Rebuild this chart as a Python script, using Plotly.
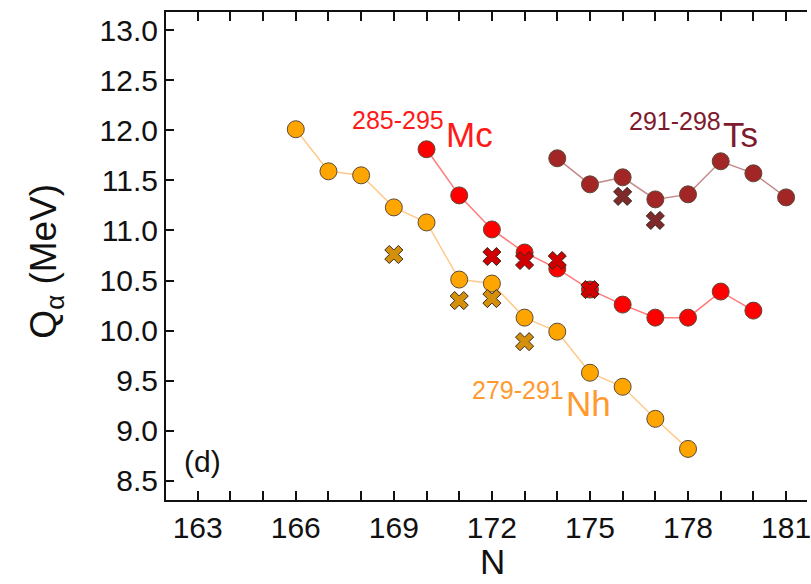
import plotly.graph_objects as go

# ---- data ----
nh_N = [166, 167, 168, 169, 170, 171, 172, 173, 174, 175, 176, 177, 178]
nh_Q = [12.01, 11.59, 11.55, 11.23, 11.08, 10.51, 10.47, 10.13, 9.99, 9.58, 9.44, 9.12, 8.82]
nh_exp_N = [169, 171, 172, 173]
nh_exp_Q = [10.76, 10.30, 10.32, 9.89]

mc_N = [170, 171, 172, 173, 174, 175, 176, 177, 178, 179, 180]
mc_Q = [11.81, 11.35, 11.01, 10.78, 10.62, 10.41, 10.26, 10.13, 10.13, 10.39, 10.20]
mc_exp_N = [172, 173, 174, 175]
mc_exp_Q = [10.74, 10.70, 10.70, 10.41]

ts_N = [174, 175, 176, 177, 178, 179, 180, 181]
ts_Q = [11.72, 11.46, 11.53, 11.31, 11.36, 11.69, 11.57, 11.33]
ts_exp_N = [176, 177]
ts_exp_Q = [11.34, 11.10]

x_ticks = [163, 166, 169, 172, 175, 178, 181]
x_ticklabels = [str(n) for n in x_ticks]
y_ticks = [8.5, 9.0, 9.5, 10.0, 10.5, 11.0, 11.5, 12.0, 12.5, 13.0]
y_ticklabels = ["%.1f" % v for v in y_ticks]

FONT = "Liberation Sans, Arial, Helvetica, sans-serif"
EDGE = "#5a4a3a"
INK = "#111111"

fig = go.Figure()

def series(xs, ys, line_color, fill):
    fig.add_trace(go.Scatter(
        x=xs, y=ys, mode="lines+markers",
        line=dict(color=line_color, width=1.5),
        marker=dict(symbol="circle", size=17, color=fill, line=dict(color=EDGE, width=1)),
        showlegend=False, hoverinfo="skip"))

def crosses(xs, ys, fill):
    fig.add_trace(go.Scatter(
        x=xs, y=ys, mode="markers",
        marker=dict(symbol="x", size=16, color=fill, line=dict(color="#3a2a20", width=1)),
        showlegend=False, hoverinfo="skip"))

series(nh_N, nh_Q, "#FFC98A", "#FFA500")
series(mc_N, mc_Q, "#FF7A7A", "#FF0000")
series(ts_N, ts_Q, "#C48A8A", "#A32626")
crosses(nh_exp_N, nh_exp_Q, "#D4900A")
crosses(mc_exp_N, mc_exp_Q, "#D00000")
crosses(ts_exp_N, ts_exp_Q, "#7E2A2A")

def label(xr, yr, sup, xl, yl, sym, color):
    fig.add_annotation(x=xr, y=yr, xref="x", yref="y", text=sup, showarrow=False,
                       xanchor="right", yanchor="middle", borderpad=0,
                       font=dict(family=FONT, size=25, color=color))
    fig.add_annotation(x=xl, y=yl, xref="x", yref="y", text=sym, showarrow=False,
                       xanchor="left", yanchor="middle", borderpad=0,
                       font=dict(family=FONT, size=35, color=color))

label(170.55, 12.10, "285-295", 170.55, 11.96, "Mc", "#FF1A1A")
label(179.04, 12.09, "291-298", 179.04, 11.96, "Ts", "#7E1A2E")
label(174.25, 9.41, "279-291", 174.25, 9.27, "Nh", "#FF9A30")

fig.add_annotation(x=162.51, y=8.69, xref="x", yref="y", text="(d)", showarrow=False,
                   xanchor="left", yanchor="middle",
                   font=dict(family=FONT, size=30, color=INK))

fig.add_annotation(x=-0.1876, y=0.49, xref="paper", yref="paper",
                   text="Q<sub>α</sub> (MeV)", showarrow=False, textangle=-90,
                   xanchor="center", yanchor="middle",
                   font=dict(family=FONT, size=37, color=INK))
fig.add_annotation(x=0.51, y=-0.125, xref="paper", yref="paper",
                   text="N", showarrow=False, xanchor="center", yanchor="middle",
                   borderpad=0,
                   font=dict(family=FONT, size=35, color=INK))

fig.update_layout(
    width=811, height=584,
    margin=dict(l=166, r=0, t=12, b=84),
    plot_bgcolor="white", paper_bgcolor="white",
    font=dict(family=FONT, size=30, color=INK),
)
fig.update_xaxes(range=[162.03, 181.64], tickvals=x_ticks, ticktext=x_ticklabels,
                 ticks="inside", ticklen=9, tickwidth=1.5, tickcolor=INK,
                 minor=dict(tick0=163, dtick=1, ticks="inside", ticklen=9,
                            tickwidth=1.5, tickcolor=INK, showgrid=False),
                 ticklabeloverflow="allow",
                 showline=True, linewidth=2, linecolor=INK, mirror="ticks",
                 showgrid=False, zeroline=False,
                 tickfont=dict(family=FONT, size=30, color=INK))
fig.update_yaxes(range=[8.31, 13.18], tickvals=y_ticks, ticktext=y_ticklabels,
                 ticks="inside", ticklen=8, tickwidth=1.5, tickcolor=INK,
                 showline=True, linewidth=2, linecolor=INK, mirror=False,
                 showgrid=False, zeroline=False,
                 tickfont=dict(family=FONT, size=30, color=INK))

fig.write_html("out.html")
